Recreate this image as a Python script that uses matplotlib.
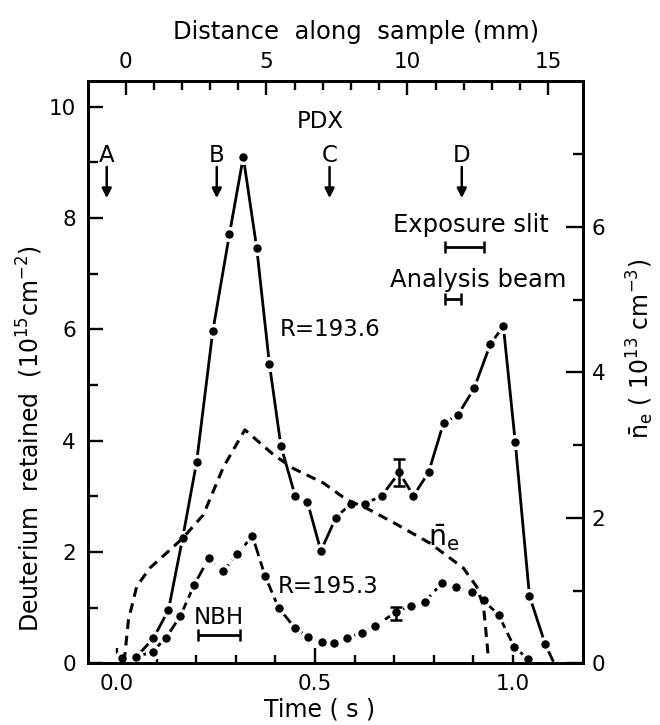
import matplotlib
matplotlib.use("Agg")
import matplotlib.pyplot as plt
from matplotlib.ticker import FixedLocator, FixedFormatter

plt.rcParams["font.family"] = ["DejaVu Sans"]
plt.rcParams["mathtext.fontset"] = "dejavusans"

# ── Data ────────────────────────────────────────────────────────────────────

# R = 193.6 sample, deuterium retained (1e15 cm^-2) vs time (s)
t_193 = [0.012, 0.048, 0.092, 0.130, 0.166, 0.201, 0.242, 0.284, 0.319, 0.353,
         0.385, 0.414, 0.450, 0.481, 0.515, 0.553, 0.591, 0.627, 0.669, 0.713,
         0.749, 0.787, 0.825, 0.861, 0.902, 0.943, 0.976, 1.006, 1.042, 1.082,
         1.101]
d_193 = [0.09, 0.11, 0.45, 0.96, 2.26, 3.61, 5.97, 7.71, 9.10, 7.46,
         5.38, 3.91, 3.01, 2.90, 2.02, 2.62, 2.87, 2.87, 3.01, 3.43,
         3.01, 3.43, 4.32, 4.46, 4.94, 5.73, 6.06, 3.98, 1.21, 0.34,
         0.05]

# R = 195.3 sample
t_195 = [0.012, 0.048, 0.090, 0.124, 0.160, 0.195, 0.232, 0.269, 0.304, 0.342,
         0.374, 0.408, 0.450, 0.483, 0.517, 0.547, 0.582, 0.618, 0.652, 0.705,
         0.743, 0.778, 0.821, 0.857, 0.896, 0.926, 0.964, 1.003, 1.039]
d_195 = [0.09, 0.11, 0.21, 0.46, 0.85, 1.41, 1.89, 1.66, 1.96, 2.29,
         1.57, 1.00, 0.63, 0.48, 0.38, 0.37, 0.45, 0.55, 0.67, 0.92,
         1.03, 1.11, 1.44, 1.38, 1.29, 1.13, 0.87, 0.30, 0.07]

# line-averaged density n_e (1e13 cm^-3)
t_ne = [0.018, 0.029, 0.050, 0.083, 0.134, 0.166, 0.218, 0.269, 0.323, 0.395,
        0.445, 0.521, 0.580, 0.631, 0.700, 0.791, 0.875, 0.909, 0.926, 0.938]
n_ne = [0.02, 0.60, 1.06, 1.31, 1.56, 1.72, 2.04, 2.70, 3.21, 2.87,
        2.68, 2.48, 2.25, 2.13, 1.93, 1.65, 1.31, 1.05, 0.78, 0.09]

# error bars (time, value, half-width)
err_193 = (0.713, 3.43, 0.24)
err_195 = (0.705, 0.90, 0.12)

# arrows A-D (time positions)
arrow_labels = ["A", "B", "C", "D"]
arrow_t = [-0.026, 0.252, 0.537, 0.871]

# horizontal bars: (t_start, t_end, level)
nbh_bar = (0.205, 0.311, 0.51)
slit_bar = (0.829, 0.928, 7.48)
beam_bar = (0.829, 0.868, 6.54)

FS = 15.5      # tick labels
FT = 16.5      # annotations / axis titles
LW = 2.0

# ── Figure ──────────────────────────────────────────────────────────────────

fig = plt.figure(figsize=(6.6, 7.25), dpi=100)
ax = fig.add_axes([0.1338, 0.0851, 0.75, 0.8036])
ax_r = ax.twinx()
ax_t = ax.twiny()

ax.set_xlim(-0.0725, 1.178)
ax.set_ylim(0, 10.47)
ax_r.set_ylim(0, 8.01)
ax_t.set_xlim(-1.32, 16.24)

mk = dict(marker="o", ms=8.5, mfc="k", mec="white", mew=2.4)

ax.plot(t_193, d_193, color="k", lw=LW, markevery=list(range(len(t_193) - 1)),
        zorder=4, **mk)
ax.plot(t_195, d_195, color="k", lw=LW, dashes=(5, 2), zorder=4, **mk)
ax_r.plot(t_ne, n_ne, color="k", lw=LW + 0.2, dashes=(3.2, 2.2), zorder=2)

for t, v, e in (err_193, err_195):
    ax.errorbar([t], [v], yerr=[e], fmt="none", ecolor="k", elinewidth=1.8,
                capsize=4, capthick=1.8, zorder=5)

for t0, t1, y in (nbh_bar, slit_bar, beam_bar):
    ax.errorbar([(t0 + t1) / 2], [y], xerr=[(t1 - t0) / 2], fmt="none",
                ecolor="k", elinewidth=2.0, capsize=4, capthick=1.8)

for lab, t in zip(arrow_labels, arrow_t):
    ax.text(t, 9.13, lab, ha="center", va="center", fontsize=FT)
    ax.annotate("", xy=(t, 8.36), xytext=(t, 8.92),
                arrowprops=dict(arrowstyle="-|>", color="k", lw=1.8,
                                mutation_scale=14, shrinkA=0, shrinkB=0))

ax.text(0.513, 9.73, "PDX", ha="center", va="center", fontsize=FT)
ax.text(0.410, 5.99, "R=193.6", ha="left", va="center", fontsize=FT)
ax.text(0.406, 1.38, "R=195.3", ha="left", va="center", fontsize=FT)
ax.text(0.258, 0.82, "NBH", ha="center", va="center", fontsize=FT)
ax.text(0.894, 7.87, "Exposure slit", ha="center", va="center", fontsize=FT + 1)
ax.text(0.912, 6.89, "Analysis beam", ha="center", va="center", fontsize=FT + 1)
ax.text(0.825, 2.25, r"$\bar{\mathrm{n}}_\mathrm{e}$", ha="center",
        va="center", fontsize=FT + 4)

# ── Axes styling ────────────────────────────────────────────────────────────

for a in (ax, ax_r, ax_t):
    for s in a.spines.values():
        s.set_linewidth(1.9)

ax.yaxis.set_major_locator(FixedLocator([0, 2, 4, 6, 8, 10]))
ax.yaxis.set_minor_locator(FixedLocator([1, 3, 5, 7, 9]))
ax.xaxis.set_major_locator(FixedLocator([0.0, 0.5, 1.0]))
ax.xaxis.set_major_formatter(FixedFormatter(["0.0", "0.5", "1.0"]))
ax.xaxis.set_minor_locator(FixedLocator([0.1, 0.2, 0.3, 0.4, 0.6, 0.7, 0.8, 0.9]))
ax_r.yaxis.set_major_locator(FixedLocator([0, 2, 4, 6]))
ax_r.yaxis.set_minor_locator(FixedLocator([1, 3, 5, 7]))
ax_t.xaxis.set_major_locator(FixedLocator([0, 5, 10, 15]))
ax_t.xaxis.set_minor_locator(FixedLocator([m for m in range(1, 15) if m % 5]))

ax.tick_params(axis="y", which="major", direction="in", length=11, width=1.7,
               labelsize=FS, pad=9)
ax.tick_params(axis="y", which="minor", direction="in", length=7, width=1.7)
ax.tick_params(axis="x", which="major", direction="in", length=11, width=1.7,
               labelsize=FS, pad=8)
ax.tick_params(axis="x", which="minor", direction="in", length=5.5, width=1.7)
ax_r.tick_params(axis="y", which="major", direction="in", length=12, width=1.7,
                 labelsize=FS, pad=6)
ax_r.tick_params(axis="y", which="minor", direction="in", length=7.5, width=1.7)
ax_t.tick_params(axis="x", which="major", direction="in", length=10, width=1.7,
                 labelsize=FS, pad=6)
ax_t.tick_params(axis="x", which="minor", direction="in", length=6.5, width=1.7)

ax.set_ylabel(r"Deuterium  retained  (10$^{15}$cm$^{-2}$)", fontsize=FT + 0.5,
              va="center")
ax.yaxis.set_label_coords(-0.118, 0.385)
ax.set_xlabel("Time ( s )", fontsize=FT + 0.5, va="center")
ax.xaxis.set_label_coords(0.468, -0.080)
ax_r.set_ylabel(r"$\bar{\mathrm{n}}_\mathrm{e}$ ( 10$^{13}$ cm$^{-3}$)",
                fontsize=FT + 0.5, va="center")
ax_r.yaxis.set_label_coords(1.115, 0.54)
ax_t.set_xlabel("Distance  along  sample (mm)", fontsize=FT + 1, va="center")
ax_t.xaxis.set_label_coords(0.541, 1.083)

fig.savefig("out.png", dpi=100)
